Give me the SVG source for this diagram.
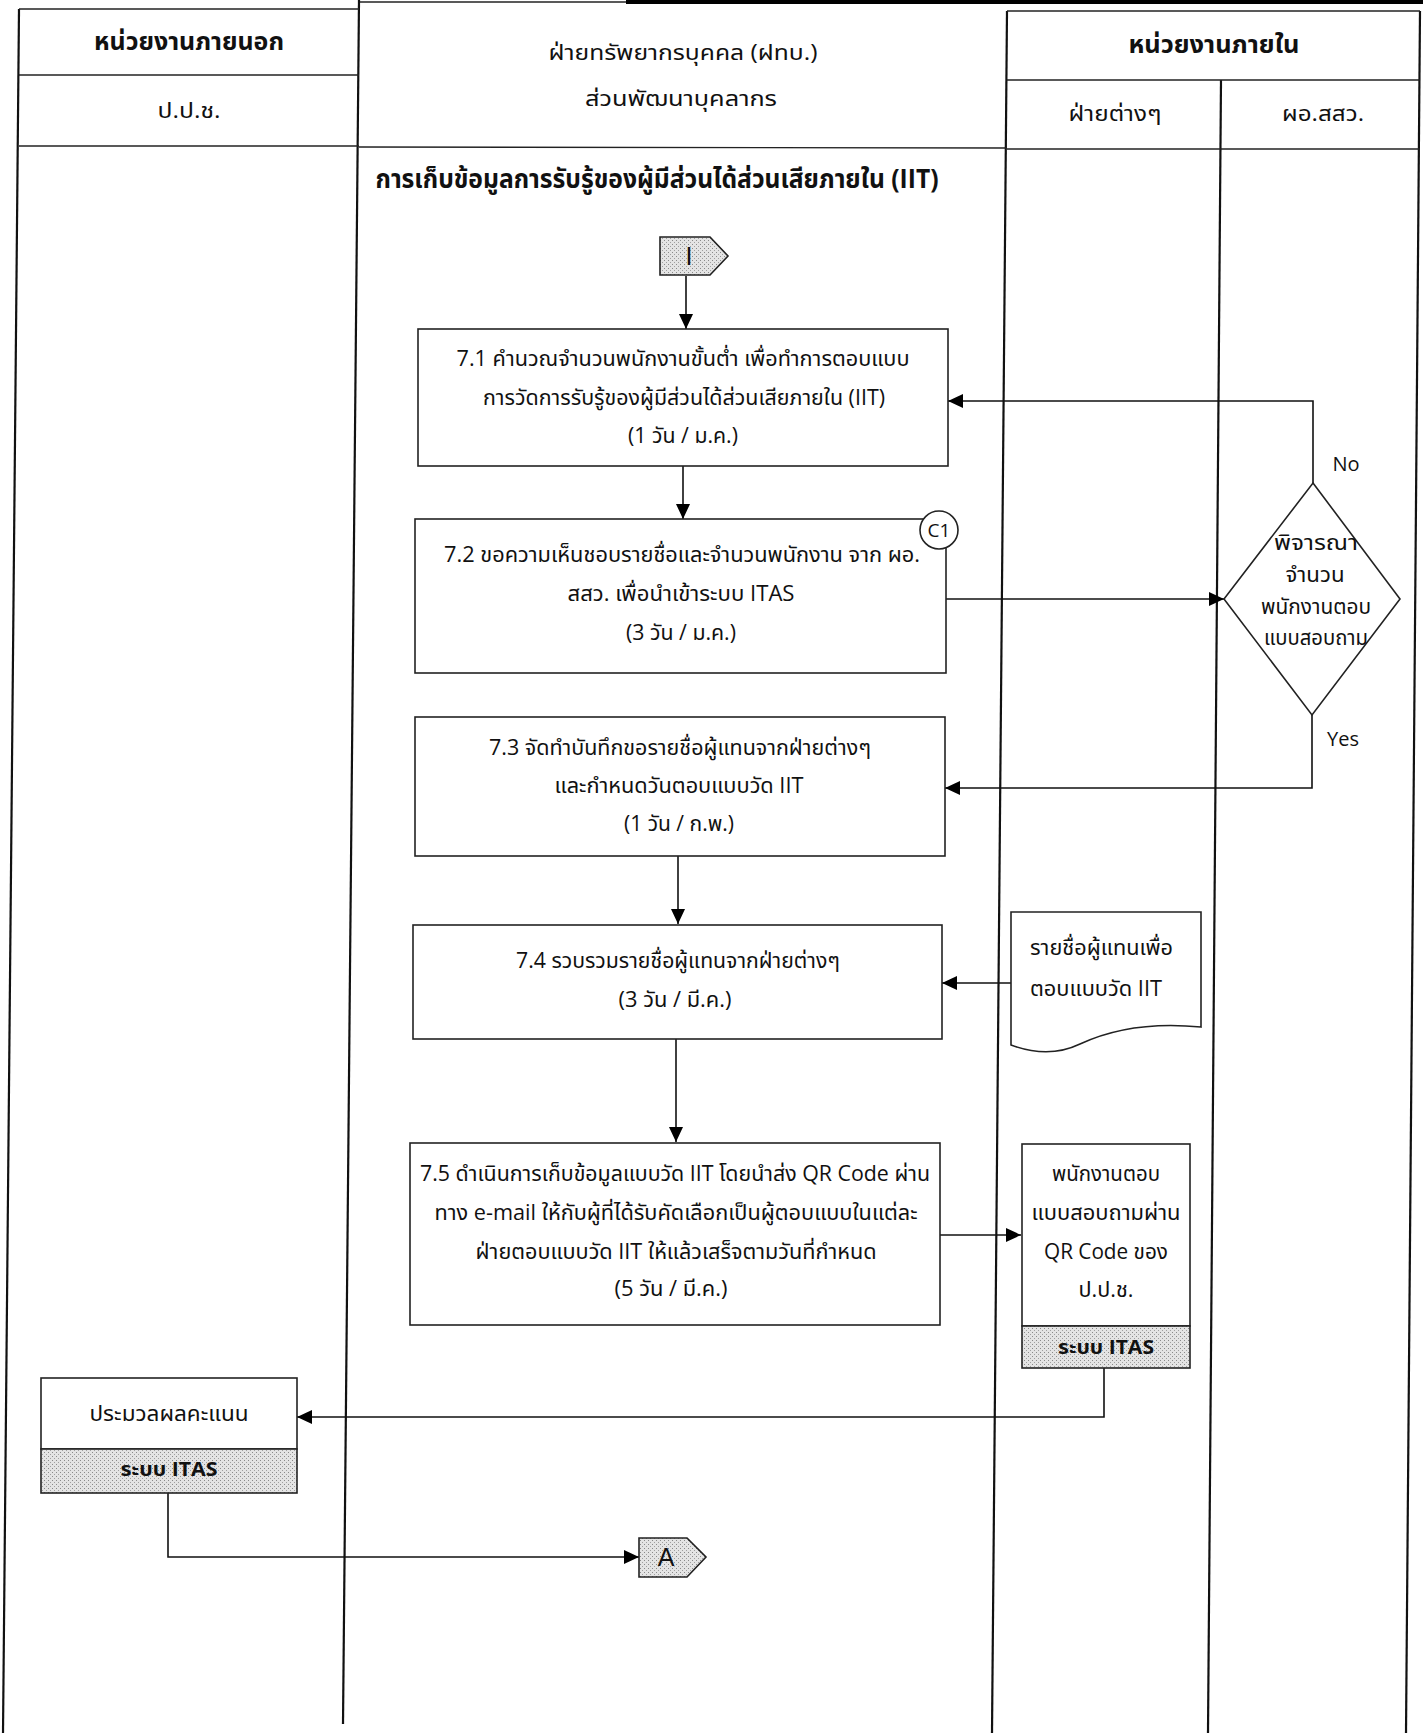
<svg xmlns="http://www.w3.org/2000/svg" width="1423" height="1733" viewBox="0 0 1423 1733">
<defs>
<pattern id="dots" width="4" height="4" patternUnits="userSpaceOnUse">
<rect width="4" height="4" fill="#e4e4e4"/>
<rect x="0" y="0" width="1" height="1" fill="#8a8a8a"/>
<rect x="2" y="2" width="1" height="1" fill="#a0a0a0"/>
</pattern>
<marker id="arr" markerUnits="userSpaceOnUse" markerWidth="16" markerHeight="14" refX="15" refY="7" orient="auto">
<path d="M0,0 L15,7 L0,14 Z" fill="#000"/>
</marker>
<style>
text{font-family:"Open Sans","Noto Sans Thai","Noto Sans","DejaVu Sans",sans-serif;fill:#111;}
.lat{font-family:"Liberation Sans","Open Sans",sans-serif;}
.h{font-size:24px;font-weight:bold;text-anchor:middle;}
.hs{font-size:22px;text-anchor:middle;}
.t{font-size:21px;text-anchor:middle;}
.tl{font-size:21px;}
.d{font-size:21px;text-anchor:middle;}
.b{font-size:20px;font-weight:bold;text-anchor:middle;}
.lane{stroke:#111;stroke-width:2.2;fill:none;}
.hl{stroke:#222;stroke-width:1.4;fill:none;}
.box{fill:#fff;stroke:#222;stroke-width:1.6;}
.sys{fill:url(#dots);stroke:#222;stroke-width:1.6;}
.con{fill:none;stroke:#111;stroke-width:1.6;marker-end:url(#arr);}
</style>
</defs>
<rect width="1423" height="1733" fill="#fff"/>

<g id="lanes">
<line class="hl" x1="359" y1="2" x2="626" y2="2"/>
<line x1="626" y1="2" x2="1423" y2="2" stroke="#000" stroke-width="4"/>
<line class="lane" x1="19" y1="9" x2="3" y2="1733"/>
<line class="lane" x1="359" y1="0" x2="343" y2="1724"/>
<line class="lane" x1="1007" y1="11" x2="992" y2="1733"/>
<line class="lane" x1="1221" y1="80" x2="1208" y2="1733"/>
<line class="lane" x1="1420" y1="11" x2="1406" y2="1733"/>
<line class="hl" x1="19" y1="9" x2="359" y2="9"/>
<line class="hl" x1="19" y1="75" x2="359" y2="75"/>
<line class="hl" x1="19" y1="146" x2="359" y2="146"/>
<line class="hl" x1="359" y1="147" x2="1007" y2="148"/>
<line class="hl" x1="1007" y1="11" x2="1420" y2="11"/>
<line class="hl" x1="1007" y1="80" x2="1420" y2="80"/>
<line class="hl" x1="1007" y1="149" x2="1420" y2="149"/>
</g>

<g id="header">
<text class="h" x="189" y="50" textLength="190" lengthAdjust="spacingAndGlyphs">หน่วยงานภายนอก</text>
<text class="hs" x="189" y="118" textLength="63" lengthAdjust="spacingAndGlyphs">ป.ป.ช.</text>
<text class="hs" x="683" y="60" textLength="269" lengthAdjust="spacingAndGlyphs">ฝ่ายทรัพยากรบุคคล (ฝทบ.)</text>
<text class="hs" x="681" y="106" textLength="192" lengthAdjust="spacingAndGlyphs">ส่วนพัฒนาบุคลากร</text>
<text class="h" x="1214" y="53" textLength="171" lengthAdjust="spacingAndGlyphs">หน่วยงานภายใน</text>
<text class="hs" x="1115" y="121" textLength="93" lengthAdjust="spacingAndGlyphs">ฝ่ายต่างๆ</text>
<text class="hs" x="1323" y="121" textLength="82" lengthAdjust="spacingAndGlyphs">ผอ.สสว.</text>
<text x="657" y="188" style="font-size:26px;font-weight:bold;text-anchor:middle" textLength="563" lengthAdjust="spacingAndGlyphs">การเก็บข้อมูลการรับรู้ของผู้มีส่วนได้ส่วนเสียภายใน (IIT)</text>
</g>

<g id="connectors">
<path class="con" d="M686,276 V329"/>
<path class="con" d="M683,466 V519"/>
<path class="con" d="M946,599 H1224"/>
<path class="con" d="M1313,483 V401 H948"/>
<path class="con" d="M1312,715 V788 H945"/>
<path class="con" d="M678,856 V924"/>
<path class="con" d="M1011,983 H942"/>
<path class="con" d="M676,1039 V1142"/>
<path class="con" d="M940,1235 H1021"/>
<path class="con" d="M1104,1368 V1417 H297"/>
<path class="con" d="M168,1493 V1557 H639"/>
<text x="1346" y="471" style="font-size:20px;text-anchor:middle">No</text>
<text x="1343" y="746" style="font-size:20px;text-anchor:middle">Yes</text>
</g>

<g id="start-I">
<path class="sys" d="M660,237 H710 L728,256 L710,275 H660 Z"/>
<text class="lat" x="689" y="265" style="font-size:25px;text-anchor:middle">I</text>
</g>

<g id="step-7-1">
<rect class="box" x="418" y="329" width="530" height="137"/>
<text class="t" x="683" y="366" textLength="453" lengthAdjust="spacingAndGlyphs">7.1 คำนวณจำนวนพนักงานขั้นต่ำ เพื่อทำการตอบแบบ</text>
<text class="t" x="684" y="405" textLength="402" lengthAdjust="spacingAndGlyphs">การวัดการรับรู้ของผู้มีส่วนได้ส่วนเสียภายใน (IIT)</text>
<text class="t" x="683" y="443" textLength="110" lengthAdjust="spacingAndGlyphs">(1 วัน / ม.ค.)</text>
</g>

<g id="step-7-2">
<rect class="box" x="415" y="519" width="531" height="154"/>
<text class="t" x="682" y="562" textLength="476" lengthAdjust="spacingAndGlyphs">7.2 ขอความเห็นชอบรายชื่อและจำนวนพนักงาน จาก ผอ.</text>
<text class="t" x="681" y="601" textLength="227" lengthAdjust="spacingAndGlyphs">สสว. เพื่อนำเข้าระบบ ITAS</text>
<text class="t" x="681" y="640" textLength="110" lengthAdjust="spacingAndGlyphs">(3 วัน / ม.ค.)</text>
<circle cx="939" cy="530" r="19" fill="#fff" stroke="#222" stroke-width="1.6"/>
<text x="939" y="537" style="font-size:19px;text-anchor:middle">C1</text>
</g>

<g id="decision">
<path class="box" d="M1313,483 L1400,599 L1312,715 L1224,599 Z"/>
<text class="d" x="1316" y="550" textLength="84" lengthAdjust="spacingAndGlyphs">พิจารณา</text>
<text class="d" x="1315" y="582" textLength="59" lengthAdjust="spacingAndGlyphs">จำนวน</text>
<text class="d" x="1316" y="614" textLength="110" lengthAdjust="spacingAndGlyphs">พนักงานตอบ</text>
<text class="d" x="1316" y="645" textLength="104" lengthAdjust="spacingAndGlyphs">แบบสอบถาม</text>
</g>

<g id="step-7-3">
<rect class="box" x="415" y="717" width="530" height="139"/>
<text class="t" x="680" y="755" textLength="382" lengthAdjust="spacingAndGlyphs">7.3 จัดทำบันทึกขอรายชื่อผู้แทนจากฝ่ายต่างๆ</text>
<text class="t" x="679" y="793" textLength="249" lengthAdjust="spacingAndGlyphs">และกำหนดวันตอบแบบวัด IIT</text>
<text class="t" x="679" y="831" textLength="110" lengthAdjust="spacingAndGlyphs">(1 วัน / ก.พ.)</text>
</g>

<g id="step-7-4">
<rect class="box" x="413" y="925" width="529" height="114"/>
<text class="t" x="678" y="968" textLength="324" lengthAdjust="spacingAndGlyphs">7.4 รวบรวมรายชื่อผู้แทนจากฝ่ายต่างๆ</text>
<text class="t" x="675" y="1007" textLength="113" lengthAdjust="spacingAndGlyphs">(3 วัน / มี.ค.)</text>
</g>

<g id="doc-list">
<path class="box" d="M1011,912 H1201 V1027 C1150,1022 1110,1030 1080,1044 C1055,1056 1030,1052 1011,1045 Z"/>
<text class="tl" x="1030" y="955" textLength="143" lengthAdjust="spacingAndGlyphs">รายชื่อผู้แทนเพื่อ</text>
<text class="tl" x="1030" y="996" textLength="132" lengthAdjust="spacingAndGlyphs">ตอบแบบวัด IIT</text>
</g>

<g id="step-7-5">
<rect class="box" x="410" y="1143" width="530" height="182"/>
<text class="t" x="675" y="1181" textLength="510" lengthAdjust="spacingAndGlyphs">7.5 ดำเนินการเก็บข้อมูลแบบวัด IIT โดยนำส่ง QR Code ผ่าน</text>
<text class="t" x="676" y="1220" textLength="483" lengthAdjust="spacingAndGlyphs">ทาง e-mail ให้กับผู้ที่ได้รับคัดเลือกเป็นผู้ตอบแบบในแต่ละ</text>
<text class="t" x="676" y="1259" textLength="401" lengthAdjust="spacingAndGlyphs">ฝ่ายตอบแบบวัด IIT ให้แล้วเสร็จตามวันที่กำหนด</text>
<text class="t" x="671" y="1296" textLength="113" lengthAdjust="spacingAndGlyphs">(5 วัน / มี.ค.)</text>
</g>

<g id="qr-answer">
<rect class="box" x="1022" y="1144" width="168" height="182"/>
<rect class="sys" x="1022" y="1326" width="168" height="42"/>
<text class="t" x="1106" y="1181" textLength="108" lengthAdjust="spacingAndGlyphs">พนักงานตอบ</text>
<text class="t" x="1106" y="1220" textLength="149" lengthAdjust="spacingAndGlyphs">แบบสอบถามผ่าน</text>
<text class="t" x="1106" y="1259" textLength="124" lengthAdjust="spacingAndGlyphs">QR Code ของ</text>
<text class="t" x="1106" y="1297" textLength="55" lengthAdjust="spacingAndGlyphs">ป.ป.ช.</text>
<text class="b" x="1106" y="1354" textLength="96" lengthAdjust="spacingAndGlyphs">ระบบ ITAS</text>
</g>

<g id="score">
<rect class="box" x="41" y="1378" width="256" height="71"/>
<rect class="sys" x="41" y="1449" width="256" height="44"/>
<text class="t" x="169" y="1421" textLength="159" lengthAdjust="spacingAndGlyphs">ประมวลผลคะแนน</text>
<text class="b" x="169" y="1476" textLength="97" lengthAdjust="spacingAndGlyphs">ระบบ ITAS</text>
</g>

<g id="end-A">
<path class="sys" d="M639,1538 H687 L706,1557 L687,1577 H639 Z"/>
<text class="lat" x="666" y="1566" style="font-size:25px;text-anchor:middle">A</text>
</g>
</svg>
